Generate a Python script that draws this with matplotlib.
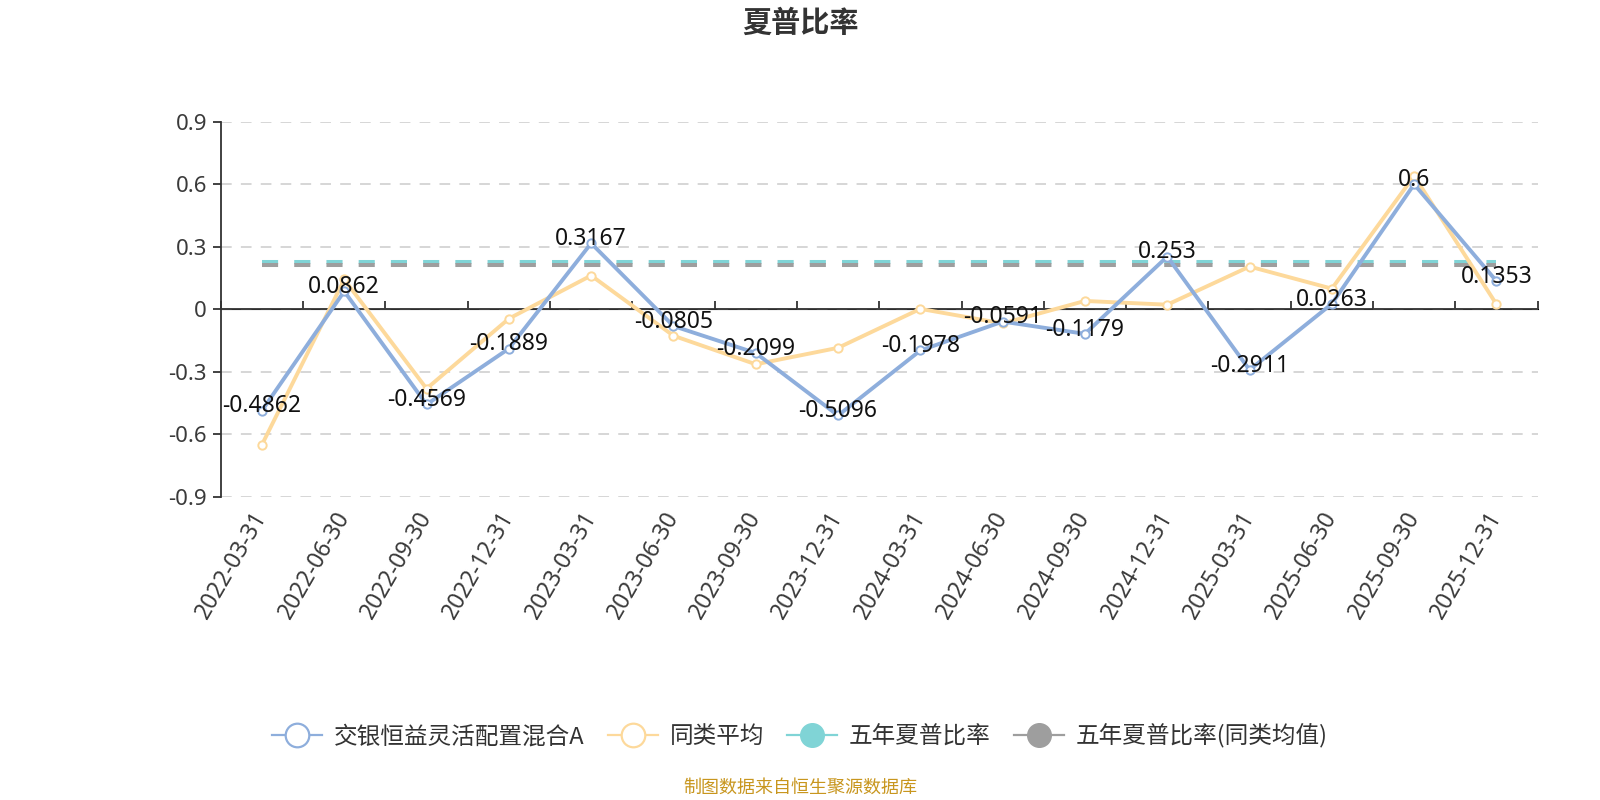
import matplotlib
matplotlib.use('Agg')
import matplotlib.pyplot as plt
from matplotlib.lines import Line2D
import numpy as np

# ─── Data ───────────────────────────────────────────────────────────
dates = ['2022-03-31', '2022-06-30', '2022-09-30', '2022-12-31',
         '2023-03-31', '2023-06-30', '2023-09-30', '2023-12-31',
         '2024-03-31', '2024-06-30', '2024-09-30', '2024-12-31',
         '2025-03-31', '2025-06-30', '2025-09-30', '2025-12-31']
fund = [-0.4862, 0.0862, -0.4569, -0.1889, 0.3167, -0.0805, -0.2099, -0.5096,
        -0.1978, -0.0591, -0.1179, 0.253, -0.2911, 0.0263, 0.6, 0.1353]
peer_avg = [-0.650, 0.143, -0.381, -0.045, 0.162, -0.127, -0.264, -0.185,
            0.002, -0.068, 0.040, 0.022, 0.205, 0.099, 0.640, 0.024]
five_year = 0.228
five_year_peer = 0.213

names = ['交银恒益灵活配置混合A', '同类平均', '五年夏普比率', '五年夏普比率(同类均值)']
c_blue, c_yellow, c_teal, c_gray = '#8eaedc', '#fdd99b', '#80d4d6', '#9e9e9e'

plt.rcParams['font.family'] = ['Noto Sans CJK SC', 'DejaVu Sans']
NUM_FONT = ['Noto Sans', 'Noto Sans CJK SC']

fig = plt.figure(figsize=(16, 8), dpi=100)
ax = fig.add_axes([0.138, 0.379, 0.823, 0.4688])

x = np.arange(len(dates))

# five-year lines (constant series)
ax.plot(x, [five_year] * len(x), color=c_teal, lw=2.9, dashes=(4, 4), zorder=2)
ax.plot(x, [five_year_peer] * len(x), color=c_gray, lw=2.9, dashes=(4, 4), zorder=2)

ax.plot(x, peer_avg, color=c_yellow, lw=2.8, marker='o', ms=6, mfc='white',
        mec=c_yellow, mew=1.4, zorder=3)
ax.plot(x, fund, color=c_blue, lw=2.8, marker='o', ms=6, mfc='white',
        mec=c_blue, mew=1.4, zorder=4)

for xi, v in zip(x, fund):
    ax.annotate(f'{v:g}', (xi, v), xytext=(0, 3), textcoords='offset points',
                ha='center', va='center', fontsize=16.5, color='#111111',
                family=NUM_FONT, zorder=5)

ax.set_xlim(-0.5, len(x) - 0.5)
ax.set_ylim(-0.9, 0.9)
yt = [-0.9, -0.6, -0.3, 0, 0.3, 0.6, 0.9]
ax.set_yticks(yt)
ax.set_yticklabels([f'{v:g}' for v in yt], family=NUM_FONT, fontsize=16, color='#3a3a3a')
ax.yaxis.grid(True, color='#cccccc', linestyle=(0, (7, 6)), lw=1.1)
ax.set_axisbelow(True)

for s in ['top', 'right', 'bottom']:
    ax.spines[s].set_visible(False)
ax.spines['left'].set_color('#333333')
ax.spines['left'].set_linewidth(1.3)
ax.tick_params(axis='y', length=6, width=1.3, color='#333333', pad=4)

ax.set_xticks(x)
ax.set_xticklabels(dates, rotation=60, ha='right', va='center', rotation_mode='anchor',
                   fontsize=16.5, color='#3a3a3a', family=NUM_FONT)
ax.tick_params(axis='x', length=0, pad=12)

# axis line at zero, ticks between categories
ax.axhline(0, color='#333333', lw=1.3, zorder=1.5)
zero = ax.secondary_xaxis(0.5)
zero.set_xticks(np.arange(len(x) + 1) - 0.5)
zero.set_xticklabels([])
zero.tick_params(axis='x', length=6, width=1.3, color='#333333', direction='out')
zero.spines['bottom'].set_visible(False)

fig.text(0.5, 0.972, '夏普比率', ha='center', va='center', fontsize=21,
         fontweight='bold', color='#333333')

handles = [
    Line2D([], [], color=c_blue, lw=1.6, marker='o', ms=17, mfc='white', mec=c_blue, mew=1.6),
    Line2D([], [], color=c_yellow, lw=1.6, marker='o', ms=17, mfc='white', mec=c_yellow, mew=1.6),
    Line2D([], [], color=c_teal, lw=1.6, marker='o', ms=17, mfc=c_teal, mec=c_teal),
    Line2D([], [], color=c_gray, lw=1.6, marker='o', ms=17, mfc=c_gray, mec=c_gray),
]
fig.legend(handles, names, loc='center', bbox_to_anchor=(0.5, 0.08), ncol=4,
           frameon=False, fontsize=17, handlelength=2.1, columnspacing=1.0,
           handletextpad=0.5, labelcolor='#333333')

fig.text(0.5, 0.016, '制图数据来自恒生聚源数据库', ha='center', va='center',
         fontsize=13, color='#c8961e')

fig.savefig('out.png', dpi=100, facecolor='white')
